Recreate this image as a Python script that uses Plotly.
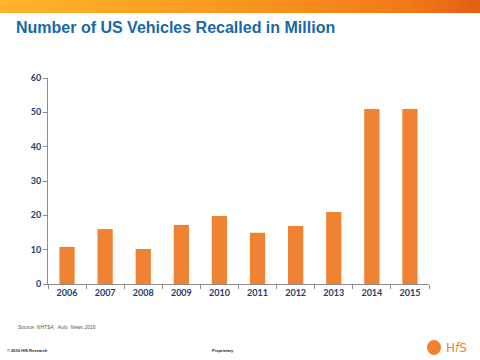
import plotly.graph_objects as go

years = ["2006", "2007", "2008", "2009", "2010", "2011", "2012", "2013", "2014", "2015"]
recalls = [10.8, 16.0, 10.2, 17.2, 19.8, 14.9, 16.9, 21.0, 51.0, 51.0]
y_ticks = [0, 10, 20, 30, 40, 50, 60]

W, H = 480, 360
L, R, T, B = 48, 51, 78, 76
pw, ph = W - L - R, H - T - B

def px(x):
    return (x - L) / pw

def py(y):
    return (H - B - y) / ph

fig = go.Figure()
fig.add_trace(go.Bar(x=years, y=recalls, marker=dict(color="#F08234", line=dict(width=0)),
                     width=0.4))

svg = ("data:image/svg+xml;utf8,<svg xmlns='http://www.w3.org/2000/svg' width='480' height='13'>"
       "<defs><linearGradient id='g' x1='0' y1='0' x2='1' y2='0'>"
       "<stop offset='0' stop-color='%23FDB52C'/><stop offset='0.45' stop-color='%23FB9A20'/>"
       "<stop offset='0.85' stop-color='%23F27A18'/><stop offset='1' stop-color='%23E25E14'/>"
       "</linearGradient></defs><rect width='480' height='13' fill='url(%23g)'/></svg>")

tick_font = dict(family="Lato, Open Sans, Liberation Sans", size=9, color="#233E6B", weight=700)

fig.update_layout(
    width=W, height=H, autosize=False,
    margin=dict(l=L, r=R, t=T, b=B),
    paper_bgcolor="white", plot_bgcolor="white",
    showlegend=False,
    bargap=0.6,
    title=dict(text="<b>Number of US Vehicles Recalled in Million</b>",
               xref="container", yref="container", x=16 / W, xanchor="left",
               y=1 - 27 / H, yanchor="middle",
               font=dict(family="Liberation Sans, Arial", size=16, color="#1769A6")),
    xaxis=dict(type="category", showgrid=False, showline=True, linecolor="#8C8C8C", linewidth=1,
               ticks="outside", tickson="boundaries", ticklen=4, tickcolor="#8C8C8C",
               tickfont=tick_font, fixedrange=True),
    yaxis=dict(range=[0, 60], tickvals=y_ticks, showgrid=False, showline=True, linecolor="#8C8C8C",
               linewidth=1, ticks="outside", ticklen=4, tickcolor="#8C8C8C", zeroline=False,
               tickfont=tick_font, fixedrange=True),
    images=[dict(source=svg, xref="paper", yref="paper", x=px(0), y=py(0), sizex=W / pw,
                 sizey=13 / ph, xanchor="left", yanchor="top", sizing="stretch", layer="below")],
    shapes=[dict(type="circle", xref="paper", yref="paper", x0=px(427), x1=px(441),
                 y0=py(355), y1=py(340), fillcolor="#F08234", line=dict(width=0))],
    annotations=[
        dict(text="<i>Source: NHTSA,  Auto  News 2016</i>", xref="paper", yref="paper",
             x=px(16), y=py(327), xanchor="left", yanchor="middle", showarrow=False,
             font=dict(family="Liberation Sans, Arial", size=5, color="#555555")),
        dict(text="<b>© 2016 HfS Research</b>", xref="paper", yref="paper",
             x=px(5), y=py(350), xanchor="left", yanchor="middle", showarrow=False,
             font=dict(family="Liberation Sans, Arial", size=4, color="#222222")),
        dict(text="<b>Proprietary</b>", xref="paper", yref="paper",
             x=px(210), y=py(350), xanchor="left", yanchor="middle", showarrow=False,
             font=dict(family="Liberation Sans, Arial", size=4, color="#222222")),
        dict(text="H<i>f</i>S", xref="paper", yref="paper",
             x=px(444), y=py(348), xanchor="left", yanchor="middle", showarrow=False,
             font=dict(family="DejaVu Sans, Liberation Sans", size=12, color="#F08234")),
    ],
)

fig.write_html("out.html", config={"displayModeBar": False},
               post_script="document.body.style.margin='0';document.body.style.overflow='hidden';")
